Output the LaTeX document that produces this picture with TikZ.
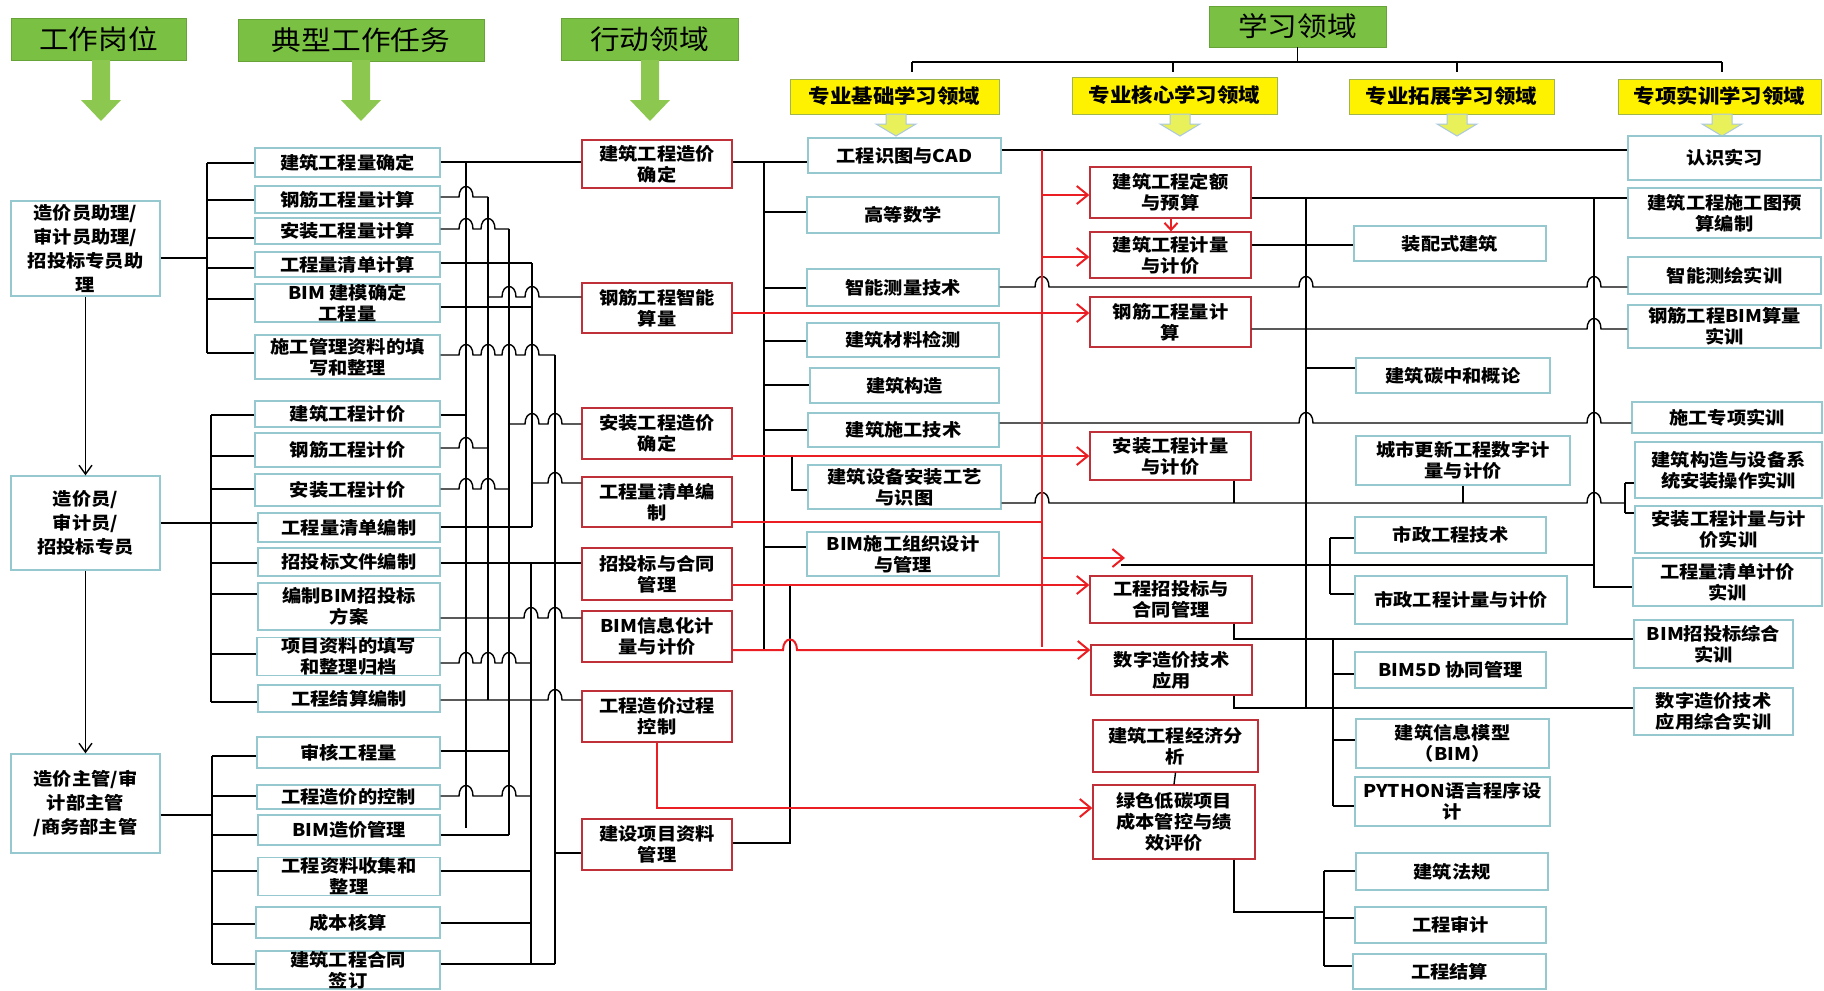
\documentclass[tikz,border=0pt]{standalone}
\usepackage{fontspec}
\setmainfont{Noto Sans CJK SC}[FakeStretch=1.1]
\usetikzlibrary{arrows.meta}
\definecolor{greenc}{RGB}{122,192,66}
\definecolor{garc}{RGB}{140,200,80}
\definecolor{tealc}{RGB}{150,200,208}
\definecolor{redb}{RGB}{192,48,56}
\definecolor{redl}{RGB}{235,30,35}
\definecolor{ybord}{RGB}{160,180,80}
\definecolor{yarc}{RGB}{232,240,90}
\definecolor{yarb}{RGB}{170,200,225}
\tikzset{
  every node/.style={font=\bfseries\fontsize{17.5}{21}\selectfont, align=center, inner sep=0pt},
  tbox/.style={draw=tealc, line width=1.3pt, fill=white},
  lbox/.style={tbox, font=\bfseries\fontsize{17.5}{24}\selectfont},
  rbox/.style={draw=redb, line width=1.3pt, fill=white},
  gbox/.style={fill=greenc, draw=greenc!85!black, line width=0.6pt, font=\fontsize{27}{30}\selectfont},
  ybox/.style={fill=yellow, draw=ybord, line width=0.8pt, font=\bfseries\fontsize{19.5}{22}\selectfont},
  ln/.style={line width=1.4pt, black},
  rl/.style={line width=2pt, redl},
  rarr/.style={rl, -{Straight Barb[length=11pt,width=18pt]}},
  barr/.style={ln, -{Straight Barb[length=9pt,width=13pt]}},
}
\newcommand\bx[7]{\pgfmathsetmacro\bw{#5-#3}\pgfmathsetmacro\bh{#6-#4}%
  \node[#1,minimum width=\bw pt,minimum height=\bh pt] (#2) at ({(#3+#5)/2},{(#4+#6)/2}) {#7};}
\newcommand\hp[2]{-- ({#1-7},#2) .. controls ({#1-7},{#2-14}) and ({#1+7},{#2-14}) .. ({#1+7},#2)}
\newcommand\garrow[1]{\fill[garc] ({#1-9},60) -- ({#1+9},60) -- ({#1+9},100) -- ({#1+20},100) -- (#1,121) -- ({#1-20},100) -- ({#1-9},100) -- cycle;}
\newcommand\yarrow[1]{\filldraw[fill=yarc, draw=yarb, line width=1pt] ({#1-10},114) -- ({#1+10},114) -- ({#1+10},124) -- ({#1+20},124) -- (#1,136) -- ({#1-20},124) -- ({#1-10},124) -- cycle;}
\begin{document}
\begin{tikzpicture}[x=1pt,y=-1pt]
\useasboundingbox (0,0) rectangle (1824,991);
\fill[white] (0,0) rectangle (1824,991);

% headers
\bx{gbox}{h1}{11}{18}{186}{60}{工作岗位}
\bx{gbox}{h2}{238}{19}{484}{61}{典型工作任务}
\bx{gbox}{h3}{561}{18}{738}{60}{行动领域}
\bx{gbox}{h4}{1209}{6}{1386}{47}{学习领域}
\garrow{101}\garrow{361}\garrow{650}
\bx{ybox}{y1}{790}{79}{999}{114}{专业基础学习领域}
\bx{ybox}{y2}{1072}{77}{1277}{114}{专业核心学习领域}
\bx{ybox}{y3}{1349}{79}{1554}{114}{专业拓展学习领域}
\bx{ybox}{y4}{1618}{79}{1821}{114}{专项实训学习领域}
\yarrow{896}\yarrow{1180}\yarrow{1457}\yarrow{1722}
\draw[ln] (h4.south) -- (h4.south|-0,62);
\draw[ln] (912,62) -- (1722,62);
\foreach \x in {912,1173,1457,1722} \draw[ln] (\x,62) -- (\x,72);

% posts
\bx{lbox}{p1}{11}{201}{160}{296}{造价员助理/\\审计员助理/\\招投标专员助\\理}
\bx{lbox}{p2}{11}{476}{160}{570}{造价员/\\审计员/\\招投标专员}
\bx{lbox}{p3}{11}{754}{160}{853}{造价主管/审\\计部主管\\/商务部主管}

% tasks
\bx{tbox}{t1}{255}{148}{440}{177}{建筑工程量确定}
\bx{tbox}{t2}{255}{186}{440}{213}{钢筋工程量计算}
\bx{tbox}{t3}{255}{218}{440}{244}{安装工程量计算}
\bx{tbox}{t4}{255}{252}{440}{277}{工程量清单计算}
\bx{tbox}{t5}{255}{284}{440}{322}{BIM 建模确定\\工程量}
\bx{tbox}{t6}{255}{335}{440}{379}{施工管理资料的填\\写和整理}
\bx{tbox}{t7}{255}{401}{440}{427}{建筑工程计价}
\bx{tbox}{t8}{255}{433}{440}{467}{钢筋工程计价}
\bx{tbox}{t9}{255}{474}{440}{506}{安装工程计价}
\bx{tbox}{t10}{258}{513}{440}{542}{工程量清单编制}
\bx{tbox}{t11}{258}{548}{440}{576}{招投标文件编制}
\bx{tbox}{t12}{258}{583}{440}{630}{编制BIM招投标\\方案}
\bx{tbox}{t13}{257}{638}{440}{675}{项目资料的填写\\和整理归档}
\bx{tbox}{t14}{258}{685}{440}{712}{工程结算编制}
\bx{tbox}{t15}{257}{737}{440}{768}{审核工程量}
\bx{tbox}{t16}{257}{785}{440}{809}{工程造价的控制}
\bx{tbox}{t17}{258}{815}{440}{845}{BIM造价管理}
\bx{tbox}{t18}{258}{859}{440}{894}{工程资料收集和\\整理}
\bx{tbox}{t19}{256}{907}{440}{938}{成本核算}
\bx{tbox}{t20}{256}{951}{440}{989}{建筑工程合同\\签订}

% action fields
\bx{rbox}{a1}{582}{140}{732}{188}{建筑工程造价\\确定}
\bx{rbox}{a2}{582}{283}{732}{333}{钢筋工程智能\\算量}
\bx{rbox}{a3}{582}{408}{732}{459}{安装工程造价\\确定}
\bx{rbox}{a4}{582}{477}{732}{527}{工程量清单编\\制}
\bx{rbox}{a5}{582}{548}{732}{600}{招投标与合同\\管理}
\bx{rbox}{a6}{582}{611}{732}{662}{BIM信息化计\\量与计价}
\bx{rbox}{a7}{582}{691}{732}{742}{工程造价过程\\控制}
\bx{rbox}{a8}{582}{819}{732}{870}{建设项目资料\\管理}

% basic
\bx{tbox}{b1}{808}{138}{1001}{173}{工程识图与CAD}
\bx{tbox}{b2}{807}{197}{999}{233}{高等数学}
\bx{tbox}{b3}{807}{269}{999}{306}{智能测量技术}
\bx{tbox}{b4}{807}{323}{999}{357}{建筑材料检测}
\bx{tbox}{b5}{810}{368}{999}{403}{建筑构造}
\bx{tbox}{b6}{808}{413}{999}{447}{建筑施工技术}
\bx{tbox}{b7}{808}{465}{1001}{509}{建筑设备安装工艺\\与识图}
\bx{tbox}{b8}{807}{532}{999}{576}{BIM施工组织设计\\与管理}

% core
\bx{rbox}{c1}{1090}{167}{1251}{218}{建筑工程定额\\与预算}
\bx{rbox}{c2}{1090}{232}{1251}{278}{建筑工程计量\\与计价}
\bx{rbox}{c3}{1090}{297}{1251}{347}{钢筋工程量计\\算}
\bx{rbox}{c4}{1090}{432}{1251}{480}{安装工程计量\\与计价}
\bx{rbox}{c5}{1090}{576}{1252}{623}{工程招投标与\\合同管理}
\bx{rbox}{c6}{1091}{645}{1252}{695}{数字造价技术\\应用}
\bx{rbox}{c7}{1093}{720}{1258}{772}{建筑工程经济分\\析}
\bx{rbox}{c8}{1093}{785}{1255}{859}{绿色低碳项目\\成本管控与绩\\效评价}

% extension
\bx{tbox}{e1}{1354}{226}{1546}{261}{装配式建筑}
\bx{tbox}{e2}{1356}{358}{1550}{393}{建筑碳中和概论}
\bx{tbox}{e3}{1356}{436}{1570}{485}{城市更新工程数字计\\量与计价}
\bx{tbox}{e4}{1355}{517}{1546}{553}{市政工程技术}
\bx{tbox}{e5}{1355}{576}{1567}{624}{市政工程计量与计价}
\bx{tbox}{e6}{1355}{652}{1546}{688}{BIM5D 协同管理}
\bx{tbox}{e7}{1356}{719}{1549}{768}{建筑信息模型\\（BIM）}
\bx{tbox}{e8}{1355}{777}{1550}{826}{PYTHON语言程序设\\计}
\bx{tbox}{e9}{1356}{853}{1548}{890}{建筑法规}
\bx{tbox}{e10}{1355}{907}{1546}{943}{工程审计}
\bx{tbox}{e11}{1353}{954}{1546}{989}{工程结算}

% special training
\bx{tbox}{s1}{1628}{136}{1821}{180}{认识实习}
\bx{tbox}{s2}{1628}{188}{1821}{238}{建筑工程施工图预\\算编制}
\bx{tbox}{s3}{1628}{257}{1821}{294}{智能测绘实训}
\bx{tbox}{s4}{1628}{305}{1821}{348}{钢筋工程BIM算量\\实训}
\bx{tbox}{s5}{1632}{402}{1822}{433}{施工专项实训}
\bx{tbox}{s6}{1635}{442}{1822}{498}{建筑构造与设备系\\统安装操作实训}
\bx{tbox}{s7}{1635}{506}{1822}{553}{安装工程计量与计\\价实训}
\bx{tbox}{s8}{1633}{558}{1822}{606}{工程量清单计价\\实训}
\bx{tbox}{s9}{1634}{620}{1793}{668}{BIM招投标综合\\实训}
\bx{tbox}{s10}{1634}{688}{1793}{735}{数字造价技术\\应用综合实训}

% left column
\draw[barr] (p1.south) -- (p2.north);
\draw[barr] (p2.south) -- (p3.north);
\draw[ln] (p1.east|-0,258) -- (207,258);
\draw[ln] (207,163) -- (207,353);
\foreach \n/\y in {t1/163,t2/200,t3/238,t4/268,t5/299,t6/353} \draw[ln] (207,\y) -- (\n.west|-0,\y);
\draw[ln] (p2.east|-0,523) -- (211,523);
\draw[ln] (211,415) -- (211,702);
\foreach \n/\y in {t7/415,t8/456,t9/489,t10/523,t11/563,t12/594,t13/654,t14/702} \draw[ln] (211,\y) -- (\n.west|-0,\y);
\draw[ln] (p3.east|-0,815) -- (212,815);
\draw[ln] (212,756) -- (212,964);
\foreach \n/\y in {t15/756,t16/796,t17/835,t18/871,t19/924,t20/964} \draw[ln] (212,\y) -- (\n.west|-0,\y);

% task buses
\draw[ln] (466,162) -- (466,828);
\draw[ln] (488,197) -- (488,700);
\draw[ln] (509,229) -- (509,835);
\draw[ln] (532,263) -- (532,527);
\draw[ln] (555,355) -- (555,964);
\draw[ln] (531,563) -- (531,964);
\draw[ln] (t1.east|-0,162) -- (a1.west|-0,162);
\draw[ln] (t2.east|-0,197) \hp{466}{197} -- (488,197);
\draw[ln] (t3.east|-0,229) \hp{466}{229} \hp{488}{229} -- (509,229);
\draw[ln] (t4.east|-0,263) -- (532,263);
\draw[ln] (t5.east|-0,307) -- (532,307);
\draw[ln] (488,297) \hp{509}{297} \hp{532}{297} -- (a2.west|-0,297);
\draw[ln] (t6.east|-0,355) \hp{466}{355} \hp{488}{355} \hp{509}{355} \hp{532}{355} -- (555,355);
\draw[ln] (t7.east|-0,415) -- (466,415);
\draw[ln] (509,424) \hp{532}{424} \hp{555}{424} -- (a3.west|-0,424);
\draw[ln] (t8.east|-0,448) \hp{466}{448} -- (488,448);
\draw[ln] (t9.east|-0,489) \hp{466}{489} \hp{488}{489} -- (509,489);
\draw[ln] (532,483) \hp{555}{483} -- (a4.west|-0,483);
\draw[ln] (t10.east|-0,527) -- (532,527);
\draw[ln] (t11.east|-0,563) -- (a5.west|-0,563);
\draw[ln] (t12.east|-0,618) \hp{531}{618} \hp{555}{618} -- (a6.west|-0,618);
\draw[ln] (t13.east|-0,663) \hp{466}{663} \hp{488}{663} \hp{509}{663} -- (531,663);
\draw[ln] (t14.east|-0,700) \hp{555}{700} -- (a7.west|-0,700);
\draw[ln] (t15.east|-0,751) -- (509,751);
\draw[ln] (t16.east|-0,796) \hp{466}{796} \hp{509}{796} -- (531,796);
\draw[ln] (t17.east|-0,835) -- (509,835);
\draw[ln] (t18.east|-0,871) -- (531,871);
\draw[ln] (t19.east|-0,923) -- (531,923);
\draw[ln] (t20.east|-0,964) -- (555,964);
\draw[ln] (555,853) -- (a8.west|-0,853);

% action -> basic
\draw[ln] (a1.east|-0,162) -- (b1.west|-0,162);
\draw[ln] (764,162) -- (764,650);
\foreach \n/\y in {b2/212,b3/288,b4/341,b5/385,b6/430,b8/547} \draw[ln] (764,\y) -- (\n.west|-0,\y);
\draw[ln] (792,456) -- (792,490) -- (b7.west|-0,490);
\draw[ln] (a8.east|-0,843) -- (790,843) -- (790,585);

% right black lines
\draw[ln] (b1.east|-0,150) -- (s1.west|-0,150);
\draw[ln] (c1.east|-0,198) -- (s2.west|-0,198);
\draw[ln] (1306,198) -- (1306,708);
\draw[ln] (1594,198) -- (1594,587) -- (s8.west|-0,587);
\draw[ln] (c2.east|-0,245) -- (e1.west|-0,245);
\draw[ln] (b3.east|-0,287) \hp{1042}{287} \hp{1306}{287} \hp{1594}{287} -- (s3.west|-0,287);
\draw[ln] (c3.east|-0,329) \hp{1594}{329} -- (s4.west|-0,329);
\draw[ln] (1306,368) -- (e2.west|-0,368);
\draw[ln] (b6.east|-0,423) \hp{1306}{423} \hp{1594}{423} -- (s5.west|-0,423);
\draw[ln] (b7.east|-0,503) \hp{1042}{503} \hp{1594}{503} -- (1625,503);
\draw[ln] (1625,483) -- (1625,513);
\draw[ln] (1625,483) -- (s6.west|-0,483);
\draw[ln] (1625,513) -- (s7.west|-0,513);
\draw[ln] (c4.south-|1234,0) -- (1234,503);
\draw[ln] (e3.south) -- (e3.south|-0,503);
\coordinate (q2) at (1121,565);
\draw[ln] (q2) -- (1594,565);
\draw[ln] (1330,538) -- (1330,594);
\draw[ln] (1330,538) -- (e4.west|-0,538);
\draw[ln] (1330,594) -- (e5.west|-0,594);
\draw[ln] (c5.south-|1234,0) -- (1234,639) -- (s9.west|-0,639);
\draw[ln] (1333,639) -- (1333,806);
\foreach \n/\y in {e6/674,e7/740,e8/806} \draw[ln] (1333,\y) -- (\n.west|-0,\y);
\draw[ln] (c6.south-|1234,0) -- (1234,708) -- (s10.west|-0,708);
\draw[ln] (c7.south) -- (c8.north);
\draw[ln] (c8.south-|1234,0) -- (1234,912) -- (1324,912);
\draw[ln] (1324,871) -- (1324,966);
\foreach \n/\y in {e9/871,e10/918,e11/966} \draw[ln] (1324,\y) -- (\n.west|-0,\y);

% red lines
\draw[rl] (1042,150) -- (1042,647);
\draw[rarr] (1042,195) -- (c1.west|-0,195);
\draw[rarr] (1042,257) -- (c2.west|-0,257);
\draw[rarr] (a2.east|-0,313) -- (c3.west|-0,313);
\draw[rarr] (a3.east|-0,456) -- (c4.west|-0,456);
\coordinate (q1) at (1125,558);
\draw[rarr] (a4.east|-0,522) -- (1042,522) -- (1042,558) -- (q1);
\draw[rarr] (a5.east|-0,585) -- (c5.west|-0,585);
\draw[rarr] (a6.east|-0,650) \hp{790}{650} -- (c6.west|-0,650);
\draw[rarr] (a7.south) -- (a7.south|-0,808) -- (c8.west|-0,808);
\draw[rl, -{Straight Barb[length=7pt,width=13pt]}] (c1.south-|1171,0) -- (c2.north-|1171,0);
\end{tikzpicture}
\end{document}
